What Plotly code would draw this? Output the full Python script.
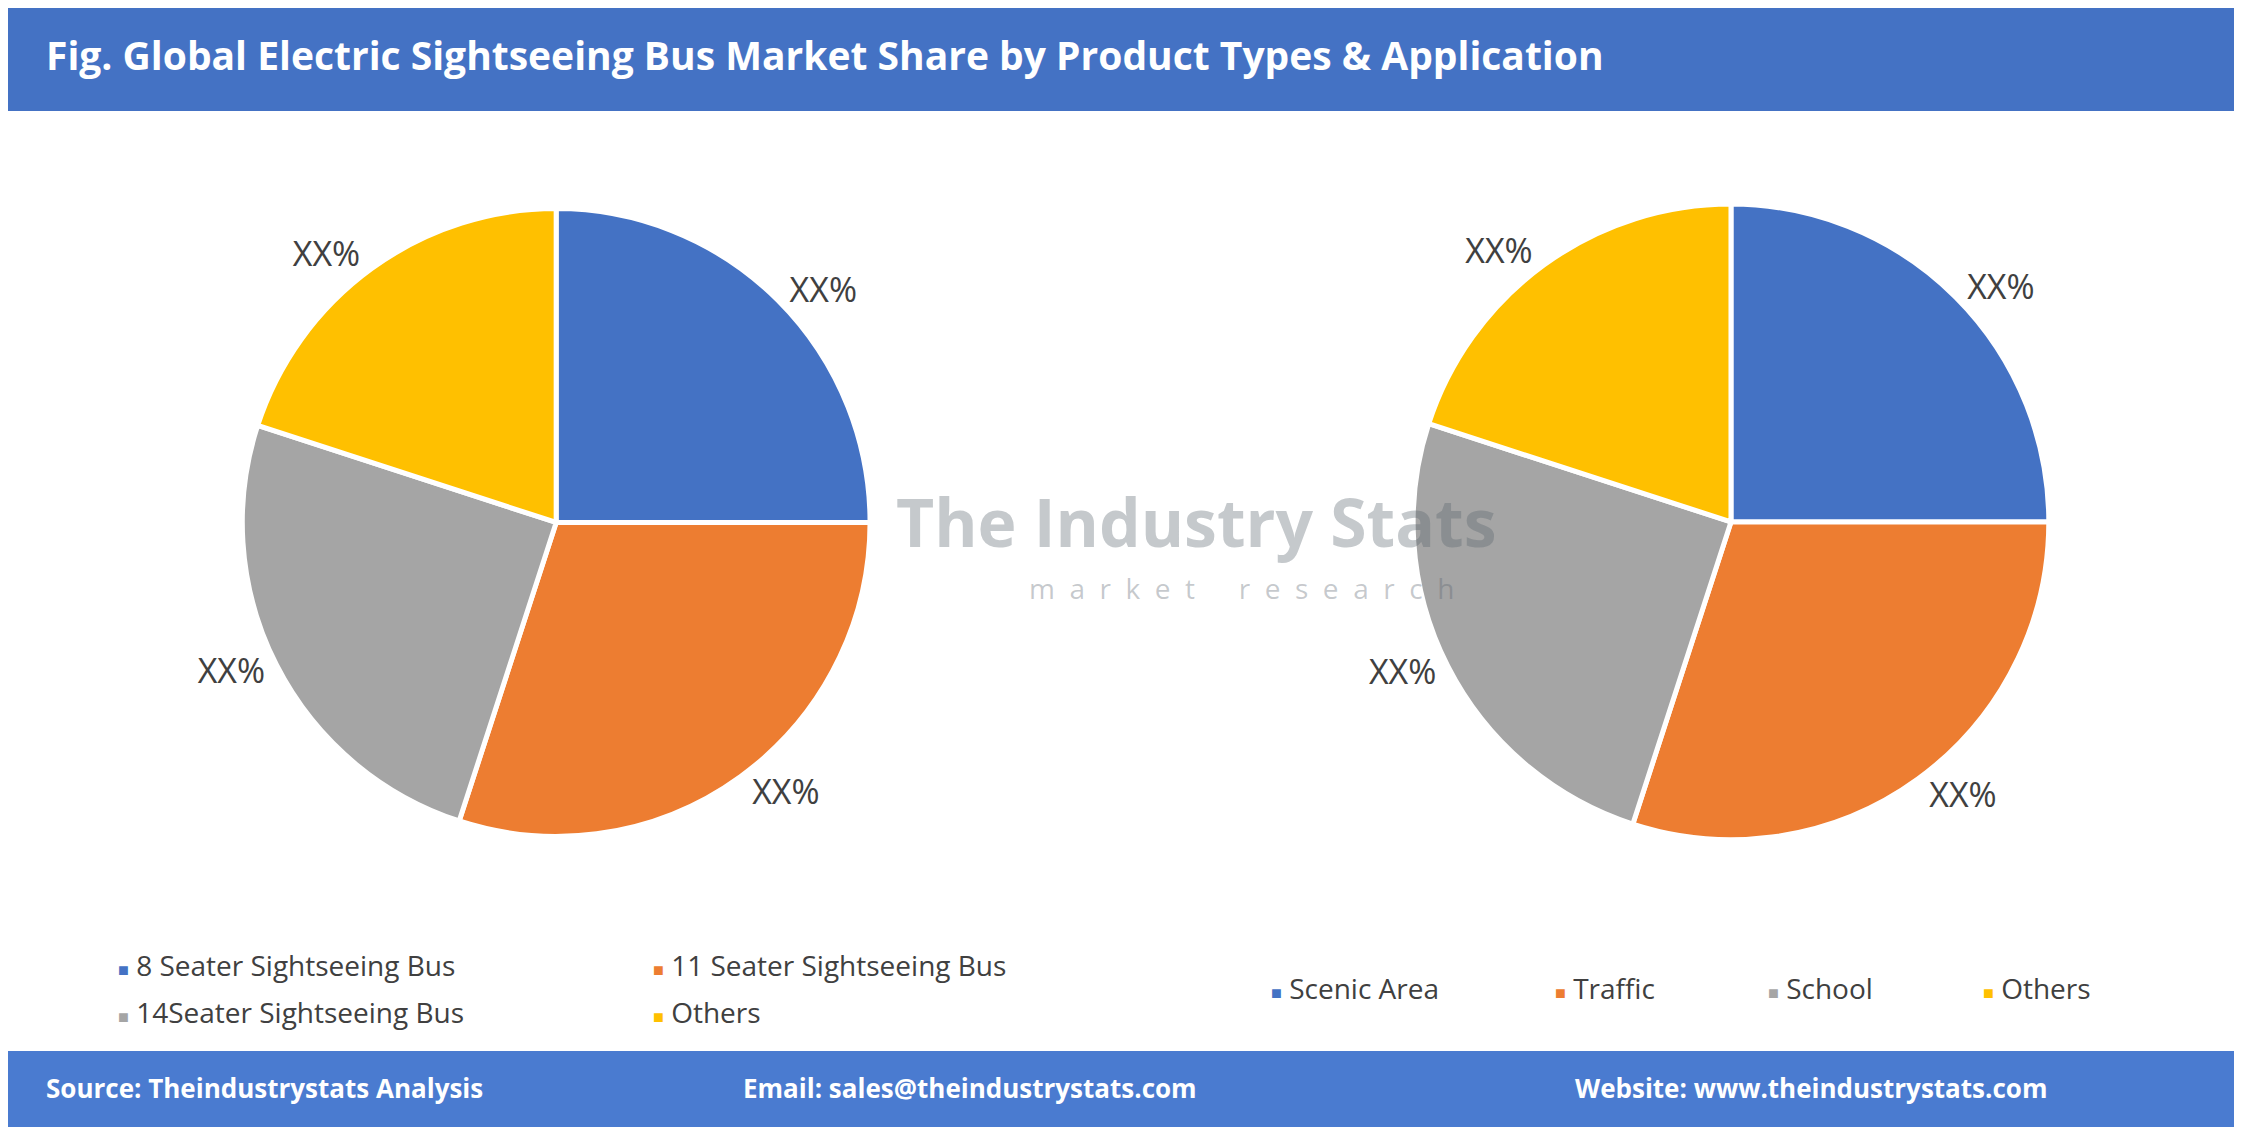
import plotly.graph_objects as go

types = ["8 Seater Sightseeing Bus", "11 Seater Sightseeing Bus", "14Seater Sightseeing Bus", "Others"]
type_vals = [25, 30, 25, 20]
apps = ["Scenic Area", "Traffic", "School", "Others"]
app_vals = [25, 30, 25, 20]
colors = ["#4472C4", "#ED7D31", "#A5A5A5", "#FFC000"]

W, H = 2242, 1127
fig = go.Figure()
common = dict(sort=False, direction="clockwise", rotation=0, texttemplate="XX%",
              textposition="outside", textfont=dict(size=34, color="#404040", family="Open Sans"),
              marker=dict(colors=colors, line=dict(color="white", width=5)), showlegend=False,
              hoverinfo="label+percent")
fig.add_trace(go.Pie(labels=types, values=type_vals, domain=dict(x=[0.104, 0.385], y=[0.265, 0.822]), **common))
fig.add_trace(go.Pie(labels=apps, values=app_vals, domain=dict(x=[0.626, 0.911], y=[0.262, 0.826]), **common))

shapes = [
    dict(type="rect", xref="paper", yref="paper", x0=0, x1=1, y0=1 - 103 / H, y1=1, fillcolor="#4472C4", line_width=0, layer="below"),
    dict(type="rect", xref="paper", yref="paper", x0=0, x1=1, y0=0, y1=84 / H, fillcolor="#4A7BD0", line_width=0, layer="below"),
]
ann = [
    dict(text="<b>Fig. Global Electric Sightseeing Bus Market Share by Product Types & Application</b>", x=0.016, y=1 - 46 / H,
         xanchor="left", yanchor="middle", showarrow=False, font=dict(size=39, color="white", family="Open Sans"), xref="paper", yref="paper"),
    dict(text="<b>Source: Theindustrystats Analysis</b>", x=0.016, y=47 / H),
    dict(text="<b>Email: sales@theindustrystats.com</b>", x=0.327, y=47 / H),
    dict(text="<b>Website: www.theindustrystats.com</b>", x=0.698, y=47 / H),
    dict(text="<b>The Industry Stats</b>", x=0.53, y=0.545, xanchor="center", font=dict(size=66, color="rgba(90,100,110,0.35)", family="Open Sans")),
    dict(text="m  a  r  k  e  t      r  e  s  e  a  r  c  h", x=0.55, y=0.485, xanchor="center", font=dict(size=28, color="rgba(90,100,110,0.35)", family="Open Sans")),
]
for a in ann[1:4]:
    a.update(xanchor="left", yanchor="middle", showarrow=False, xref="paper", yref="paper",
             font=dict(size=26, color="white", family="Open Sans"))
for a in ann[4:]:
    a.update(yanchor="middle", showarrow=False, xref="paper", yref="paper")

leg_pos_left = [(0.048, 0.151), (0.287, 0.151), (0.048, 0.109), (0.287, 0.109)]
for (x, y), lab, c in zip(leg_pos_left, types, colors):
    ann.append(dict(text=f'<span style="color:{c};font-size:18px">■</span> {lab}', x=x, y=y))
leg_pos_right = [(0.5625, 0.130), (0.689, 0.130), (0.784, 0.130), (0.880, 0.130)]
for (x, y), lab, c in zip(leg_pos_right, apps, colors):
    ann.append(dict(text=f'<span style="color:{c};font-size:18px">■</span> {lab}', x=x, y=y))
for a in ann[6:]:
    a.update(xanchor="left", yanchor="middle", showarrow=False, xref="paper", yref="paper",
             font=dict(size=28, color="#404040", family="Open Sans"))

fig.update_layout(width=W, height=H, margin=dict(l=0, r=0, t=0, b=0), paper_bgcolor="white",
                  shapes=shapes, annotations=ann)
fig.write_html("out.html")
